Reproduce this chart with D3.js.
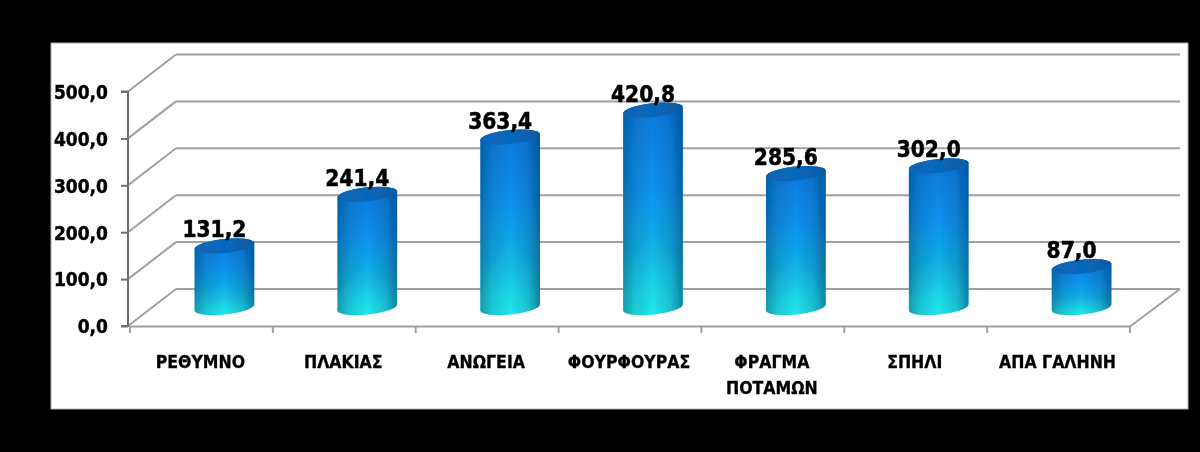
<!DOCTYPE html>
<html>
<head>
<meta charset="utf-8">
<script src="https://cdn.jsdelivr.net/npm/d3@7"></script>
<style>
	html, body {margin: 0; padding: 0; background: #000;}
	svg {display: block;}
</style>
</head>
<body>
<svg id="chart" width="1200" height="452"></svg>
<script>
// Values.
const categories = ["ΡΕΘΥΜΝΟ", "ΠΛΑΚΙΑΣ", "ΑΝΩΓΕΙΑ", "ΦΟΥΡΦΟΥΡΑΣ", "ΦΡΑΓΜΑ ΠΟΤΑΜΩΝ", "ΣΠΗΛΙ", "ΑΠΑ ΓΑΛΗΝΗ"];
const values = [131.2, 241.4, 363.4, 420.8, 285.6, 302.0, 87.0];
const yTicks = [0, 100, 200, 300, 400, 500];

const width = 1200, height = 452;
const panel = {left: 51, top: 43, right: 1188, bottom: 409};
const depth = {x: 48, y: -37};   // the oblique shift from front to back wall
const cyl = {rx: 30, ry: 7, tilt: -6};
const condensed = "DejaVu Sans Condensed, DejaVu Sans";

const fmt = d3.formatLocale({decimal: ",", thousands: ".", grouping: [3], currency: ["", ""]}).format(".1f");

const svg = d3.select("#chart");
const defs = svg.append("defs");

// The source is a soft, upscaled picture, so a light blur goes over everything.
defs.append("filter").attr("id", "soft")
	.append("feGaussianBlur").attr("stdDeviation", 0.5);

function gradient(id, x2, y2, stops){
	defs.append("linearGradient").attr("id", id)
		.attr("x1", 0).attr("y1", 0).attr("x2", x2).attr("y2", y2)
		.selectAll("stop").data(stops).join("stop")
		.attr("offset", d=>d[0])
		.attr("stop-color", d=>d[1])
		.attr("stop-opacity", d=>d[2] === undefined ? 1 : d[2]);
}
gradient("bodyV", 0, 1, [[0, "#0878dc"], [0.4, "#0a92ee"], [0.7, "#14b4e6"], [0.9, "#1edcea"], [1, "#22e6ea"]]);
gradient("bodyH", 1, 0, [[0, "#003a5a", 0.42], [0.2, "#003a5a", 0.16], [0.5, "#003a5a", 0], [0.8, "#003a6a", 0.2], [1, "#003a6a", 0.55]]);
gradient("cap", 1, 0, [[0, "#0a64b4"], [0.5, "#0668bc"], [1, "#0a5aa2"]]);

svg.append("rect").attr("width", width).attr("height", height).attr("fill", "#000");

const root = svg.append("g").attr("filter", "url(#soft)");

root.append("rect")
	.attr("x", panel.left).attr("y", panel.top)
	.attr("width", panel.right - panel.left).attr("height", panel.bottom - panel.top)
	.attr("fill", "#fff").attr("stroke", "#b0b0b0").attr("stroke-width", 1);

const x = d3.scaleBand().domain(categories).range([130, 1130]);
const y = d3.scaleLinear().domain([0, 500]).range([326, 91.5]);

// Walls: a line along the back and a diagonal to the front at every tick.
const grid = root.append("g").attr("stroke", "#a0a0a0").attr("stroke-width", 2).attr("fill", "none");
grid.selectAll("line.back").data(yTicks).join("line").attr("class", "back")
	.attr("x1", x.range()[0] + depth.x - 2).attr("x2", 1180)
	.attr("y1", d=>y(d) + depth.y).attr("y2", d=>y(d) + depth.y);
grid.selectAll("line.side").data(yTicks).join("line").attr("class", "side")
	.attr("x1", 128).attr("x2", x.range()[0] + depth.x - 2)
	.attr("y1", d=>y(d)).attr("y2", d=>y(d) + depth.y);

// Floor.
grid.append("line").attr("x1", x.range()[1]).attr("y1", y(0) + 0.5)
	.attr("x2", 1180).attr("y2", y(0) + depth.y);
grid.append("line").attr("x1", x.range()[0]).attr("x2", x.range()[1])
	.attr("y1", y(0) + 0.5).attr("y2", y(0) + 0.5);
grid.selectAll("line.tick").data(d3.range(categories.length + 1)).join("line").attr("class", "tick")
	.attr("x1", d=>x.range()[0] + d*x.step()).attr("x2", d=>x.range()[0] + d*x.step())
	.attr("y1", y(0)).attr("y2", y(0) + 7);

// Value axis.
const yAxis = root.append("g").attr("transform", "translate(128,0)")
	.call(d3.axisLeft(y).tickValues(yTicks).tickFormat(fmt).tickSize(7).tickPadding(13));
yAxis.selectAll("path, line").attr("stroke", "#6e6e6e").attr("stroke-width", 2);
yAxis.selectAll("text")
	.attr("fill", "#000").attr("stroke", "#000").attr("stroke-width", 0.4)
	.attr("font-family", condensed).attr("font-weight", "bold").attr("font-size", 19)
	.attr("dy", "0.36em").attr("text-anchor", "end");
yAxis.select("path.domain").attr("d", `M-7,${y(500)}H0V${y(0)}H-7`);

// Cylinders stand halfway into the floor.
const cx = (d)=>x(d) + x.bandwidth()/2 + 23;
const rad = cyl.tilt*Math.PI/180;
const dx = cyl.rx*Math.cos(rad), dy = cyl.rx*Math.sin(rad);
const yBack = (v)=>y(v) + depth.y/2;

function bodyPath(cat, v){
	let c = cx(cat), t = yBack(v), b = yBack(0);
	return `M${c-dx},${t-dy} L${c-dx},${b-dy}`
		+ ` A${cyl.rx},${cyl.ry} ${cyl.tilt} 0 0 ${c+dx},${b+dy}`
		+ ` L${c+dx},${t+dy}`
		+ ` A${cyl.rx},${cyl.ry} ${cyl.tilt} 0 0 ${c-dx},${t-dy}Z`;
}

const rows = categories.map((c, i)=>({cat: c, value: values[i]}));
const bars = root.selectAll("g.bar").data(rows).join("g").attr("class", "bar");
bars.append("path").attr("d", d=>bodyPath(d.cat, d.value)).attr("fill", "url(#bodyV)");
bars.append("path").attr("d", d=>bodyPath(d.cat, d.value)).attr("fill", "url(#bodyH)");
bars.append("ellipse")
	.attr("rx", cyl.rx).attr("ry", cyl.ry)
	.attr("transform", d=>`translate(${cx(d.cat)},${yBack(d.value)}) rotate(${cyl.tilt})`)
	.attr("fill", "url(#cap)");

// Value labels sit a little left of the cylinder's centre.
root.selectAll("text.value").data(rows).join("text").attr("class", "value")
	.attr("x", d=>cx(d.cat) - 10)
	.attr("y", d=>yBack(d.value) - 8.5)
	.attr("text-anchor", "middle")
	.attr("font-family", condensed).attr("font-weight", "bold").attr("font-size", 22.5)
	.attr("fill", "#000").attr("stroke", "#000").attr("stroke-width", 0.5)
	.text(d=>fmt(d.value));

// Category labels, wrapped on the space where the original wraps.
const catLabels = root.selectAll("text.cat").data(categories).join("text").attr("class", "cat")
	.attr("text-anchor", "middle")
	.attr("font-family", condensed).attr("font-weight", "bold").attr("font-size", 17.5)
	.attr("fill", "#000").attr("stroke", "#000").attr("stroke-width", 0.3);
catLabels.each(function(d){
	let words = d === "ΦΡΑΓΜΑ ΠΟΤΑΜΩΝ" ? d.split(" ") : [d];
	d3.select(this).selectAll("tspan").data(words).join("tspan")
		.attr("x", x(d) + x.bandwidth()/2 - 1)
		.attr("y", (w, i)=>368 + i*25.5)
		.text(w=>w);
});
</script>
</body>
</html>
